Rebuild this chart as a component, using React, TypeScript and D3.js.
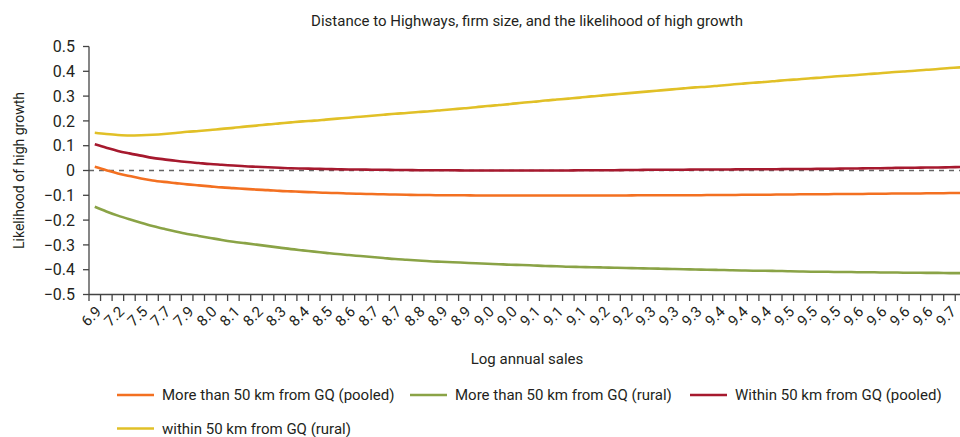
import React from "react";
import * as d3 from "d3";

const categories: string[] = [
  "6.9","7.1","7.2","7.4","7.5","7.6","7.7","7.8","7.9","8.0",
  "8.0","8.1","8.1","8.2","8.2","8.3","8.3","8.4","8.4","8.5",
  "8.5","8.6","8.6","8.7","8.7","8.7","8.7","8.8","8.8","8.8",
  "8.9","8.9","8.9","9.0","9.0","9.0","9.0","9.0","9.1","9.1",
  "9.1","9.1","9.1","9.2","9.2","9.2","9.2","9.2","9.3","9.3",
  "9.3","9.3","9.3","9.4","9.4","9.4","9.4","9.4","9.4","9.5",
  "9.5","9.5","9.5","9.5","9.5","9.5","9.6","9.6","9.6","9.6",
  "9.6","9.6","9.6","9.7","9.7","9.7",
];

const pooledFar: number[] = [
  0.015, 0.001, -0.012, -0.022, -0.032, -0.040, -0.046, -0.051, -0.056, -0.060,
  -0.064, -0.068, -0.071, -0.074, -0.077, -0.079, -0.082, -0.084, -0.086, -0.088,
  -0.090, -0.091, -0.093, -0.094, -0.095, -0.096, -0.097, -0.098, -0.099, -0.099,
  -0.100, -0.100, -0.100, -0.101, -0.101, -0.101, -0.101, -0.101, -0.101, -0.101,
  -0.101, -0.101, -0.101, -0.101, -0.101, -0.101, -0.101, -0.100, -0.100, -0.100,
  -0.100, -0.100, -0.100, -0.099, -0.099, -0.099, -0.098, -0.098, -0.098, -0.097,
  -0.097, -0.096, -0.096, -0.096, -0.095, -0.095, -0.095, -0.094, -0.094, -0.093,
  -0.093, -0.093, -0.092, -0.092, -0.091, -0.091,
];

const ruralFar: number[] = [
  -0.146, -0.165, -0.182, -0.197, -0.211, -0.224, -0.235, -0.246, -0.256, -0.264,
  -0.272, -0.280, -0.287, -0.293, -0.299, -0.305, -0.311, -0.317, -0.322, -0.327,
  -0.332, -0.337, -0.341, -0.345, -0.349, -0.353, -0.357, -0.360, -0.363, -0.366,
  -0.368, -0.370, -0.372, -0.374, -0.376, -0.378, -0.380, -0.381, -0.383, -0.385,
  -0.386, -0.388, -0.389, -0.390, -0.391, -0.392, -0.393, -0.394, -0.395, -0.396,
  -0.397, -0.398, -0.399, -0.400, -0.401, -0.402, -0.403, -0.404, -0.404, -0.405,
  -0.406, -0.407, -0.408, -0.408, -0.409, -0.409, -0.410, -0.410, -0.411, -0.411,
  -0.412, -0.412, -0.413, -0.413, -0.414, -0.414,
];

const pooledNear: number[] = [
  0.106, 0.092, 0.079, 0.069, 0.060, 0.051, 0.045, 0.039, 0.034, 0.030,
  0.026, 0.023, 0.020, 0.017, 0.015, 0.013, 0.011, 0.009, 0.008, 0.007,
  0.006, 0.005, 0.004, 0.004, 0.003, 0.003, 0.002, 0.002, 0.001, 0.001,
  0.001, 0.001, 0.000, 0.000, 0.000, 0.000, 0.000, 0.000, 0.000, 0.000,
  0.000, 0.000, 0.001, 0.001, 0.001, 0.001, 0.002, 0.002, 0.003, 0.003,
  0.003, 0.003, 0.004, 0.004, 0.004, 0.004, 0.005, 0.005, 0.005, 0.005,
  0.006, 0.006, 0.006, 0.007, 0.007, 0.008, 0.008, 0.009, 0.009, 0.010,
  0.011, 0.011, 0.012, 0.012, 0.013, 0.014,
];

const ruralNear: number[] = [
  0.152, 0.147, 0.143, 0.141, 0.142, 0.144, 0.147, 0.151, 0.156, 0.159,
  0.163, 0.168, 0.172, 0.177, 0.181, 0.186, 0.190, 0.194, 0.198, 0.201,
  0.205, 0.209, 0.213, 0.217, 0.221, 0.225, 0.229, 0.232, 0.236, 0.239,
  0.243, 0.247, 0.251, 0.255, 0.260, 0.264, 0.268, 0.273, 0.277, 0.282,
  0.286, 0.290, 0.294, 0.299, 0.303, 0.307, 0.311, 0.315, 0.319, 0.323,
  0.327, 0.331, 0.335, 0.338, 0.342, 0.346, 0.350, 0.354, 0.357, 0.361,
  0.365, 0.368, 0.372, 0.375, 0.379, 0.382, 0.385, 0.389, 0.392, 0.396,
  0.399, 0.402, 0.406, 0.409, 0.413, 0.416,
];

const yTicks: number[] = [0.5, 0.4, 0.3, 0.2, 0.1, 0, -0.1, -0.2, -0.3, -0.4, -0.5];
const yTickLabels: string[] = ["0.5", "0.4", "0.3", "0.2", "0.1", "0", "\u22120.1", "\u22120.2", "\u22120.3", "\u22120.4", "\u22120.5"];

const seriesNames: string[] = [
  "More than 50 km from GQ (pooled)",
  "More than 50 km from GQ (rural)",
  "Within 50 km from GQ (pooled)",
  "within 50 km from GQ (rural)",
];
const seriesColors: string[] = ["#F37021", "#8AA346", "#A6192E", "#E1C027"];
const seriesValues: number[][] = [pooledFar, ruralFar, pooledNear, ruralNear];

const W = 960;
const H = 437;
const FONT = "'Roboto', 'Liberation Sans', sans-serif";
const TXT = "#231f20";

export default function App() {
  const idx = categories.map((_, i) => i);
  const x = d3.scaleBand<number>().domain(idx).range([89, 89 + 11.55 * categories.length]).padding(0);
  const y = d3.scaleLinear().domain([-0.5, 0.5]).range([294.5, 46.5]);
  const cx = (i: number) => (x(i) as number) + x.bandwidth() / 2;
  const line = d3
    .line<number>()
    .x((_, i) => cx(i))
    .y((d) => y(d))
    .curve(d3.curveMonotoneX);

  const boundaries = d3.range(categories.length + 1).map((i) => 89 + i * x.bandwidth());

  const legend = [
    { x: 117, y: 395 },
    { x: 410, y: 395 },
    { x: 690, y: 395 },
    { x: 117, y: 428.5 },
  ];

  return (
    <svg
      width={W}
      height={H}
      style={{ position: "absolute", left: 0, top: 0, background: "#fff" }}
      fontFamily={FONT}
    >
      <text x={527} y={26} textAnchor="middle" fontSize={15} fill={TXT}>
        Distance to Highways, firm size, and the likelihood of high growth
      </text>

      {/* zero dashed line */}
      <line x1={89} x2={W} y1={y(0)} y2={y(0)} stroke="#666" strokeWidth={1.5} strokeDasharray="5,5" />

      {/* series */}
      {seriesValues.map((vals, s) => (
        <path key={s} d={line(vals) || ""} fill="none" stroke={seriesColors[s]} strokeWidth={2.6} />
      ))}

      {/* y axis */}
      <line x1={89} x2={89} y1={y(0.5)} y2={y(-0.5)} stroke="#444" strokeWidth={1.3} />
      {yTicks.map((t, i) => (
        <g key={i}>
          <line x1={83} x2={89} y1={y(t)} y2={y(t)} stroke="#444" strokeWidth={1.3} />
          <text x={75} y={y(t)} dy="0.36em" textAnchor="end" fontSize={16} fill={TXT}>
            {yTickLabels[i]}
          </text>
        </g>
      ))}
      <text
        transform={`translate(24,${y(0)}) rotate(-90)`}
        textAnchor="middle"
        fontSize={14}
        fill={TXT}
      >
        Likelihood of high growth
      </text>

      {/* x axis */}
      <line x1={89} x2={W} y1={294.5} y2={294.5} stroke="#444" strokeWidth={1.3} />
      {boundaries.map((b, i) => (
        <line key={i} x1={b} x2={b} y1={294.5} y2={301} stroke="#444" strokeWidth={1.3} />
      ))}
      {categories.map((c, i) =>
        i % 2 === 0 ? (
          <text
            key={i}
            transform={`translate(${cx(i)},${305}) rotate(-45)`}
            textAnchor="end"
            dy="0.7em"
            fontSize={15}
            fill={TXT}
          >
            {c}
          </text>
        ) : null
      )}
      <text x={527} y={359} dy="0.35em" textAnchor="middle" fontSize={15} fill={TXT}>
        Log annual sales
      </text>

      {/* legend */}
      {seriesNames.map((n, i) => (
        <g key={i}>
          <line
            x1={legend[i].x}
            x2={legend[i].x + 37}
            y1={legend[i].y}
            y2={legend[i].y}
            stroke={seriesColors[i]}
            strokeWidth={2.6}
          />
          <text x={legend[i].x + 45} y={legend[i].y} dy="0.35em" fontSize={15} fill={TXT}>
            {n}
          </text>
        </g>
      ))}
    </svg>
  );
}
